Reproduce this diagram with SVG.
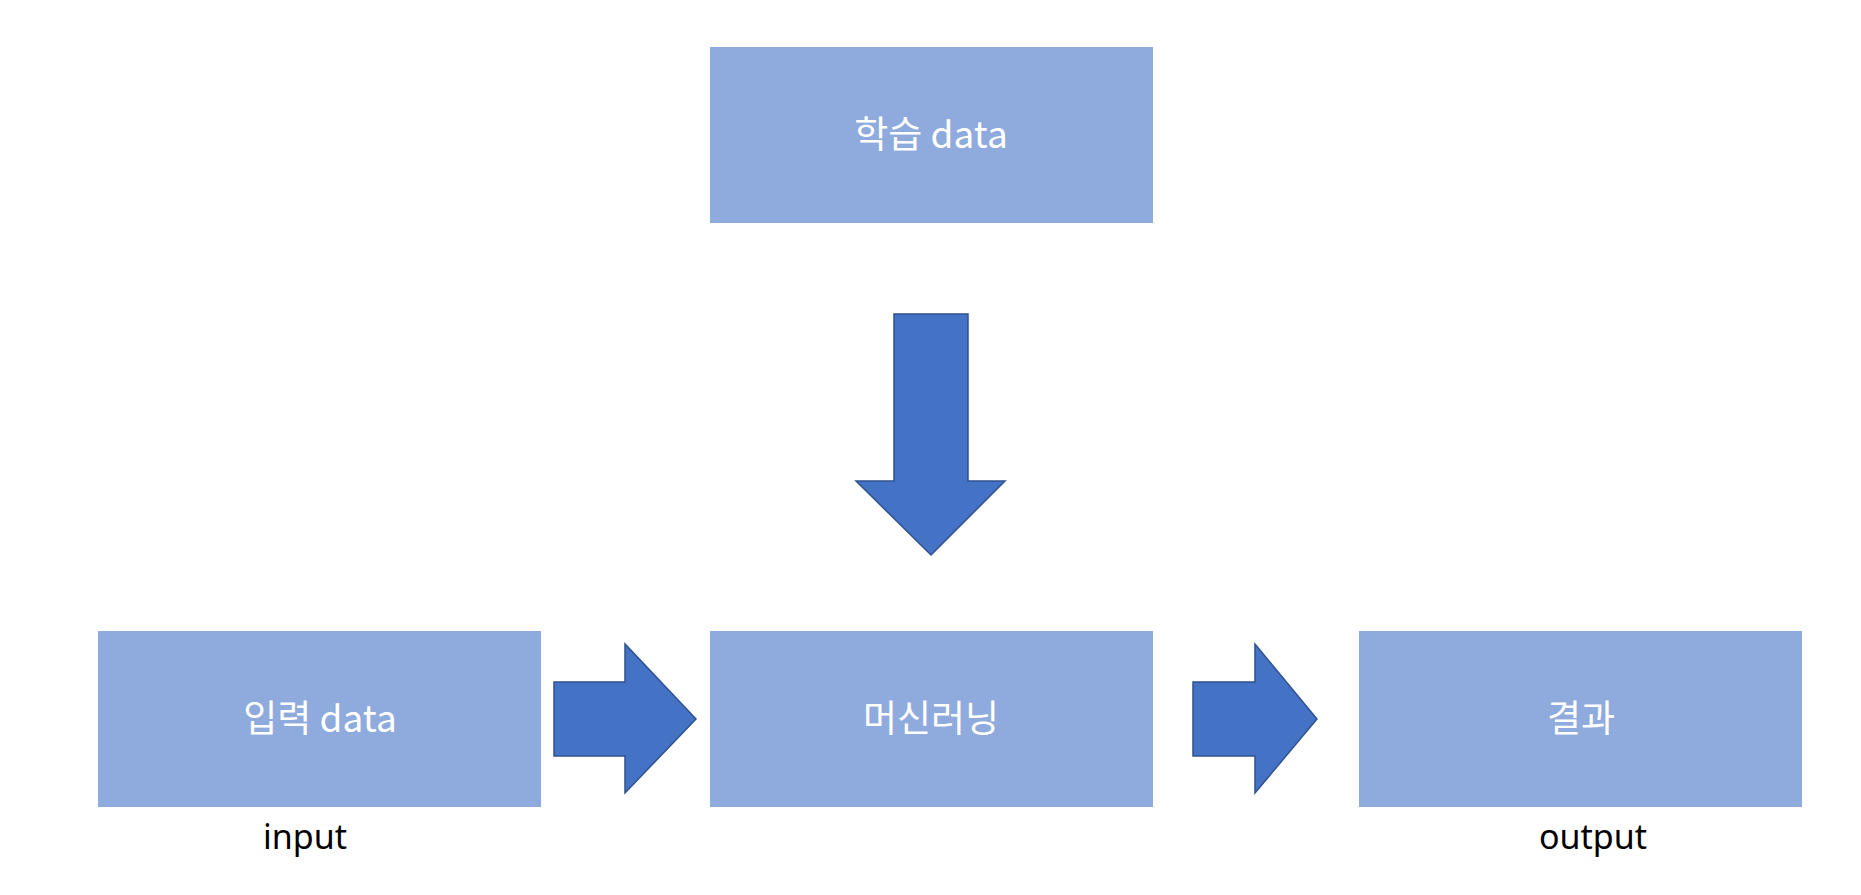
<svg xmlns="http://www.w3.org/2000/svg" width="1861" height="895" viewBox="0 0 1861 895">
  <style>
    .box { fill: #8FAADC; }
    .lbl { fill: #FFFFFF; font-family: "Noto Sans CJK KR", "Noto Sans", sans-serif; font-size: 37px; text-anchor: middle; }
    .cap { fill: #000000; font-family: "Noto Sans", "Noto Sans CJK KR", sans-serif; font-size: 34px; text-anchor: middle; }
    .arrow { fill: #4472C4; stroke: #2F528F; stroke-width: 1.5; stroke-linejoin: miter; }
  </style>
  <rect width="1861" height="895" fill="#FFFFFF"/>
  <g id="node-training">
    <rect class="box" x="710" y="47" width="443" height="176"/>
    <text class="lbl" x="931" y="148">학습 data</text>
  </g>
  <g id="node-input">
    <rect class="box" x="98" y="631" width="443" height="176"/>
    <text class="lbl" x="320" y="732">입력 data</text>
    <text class="cap" x="305" y="849">input</text>
  </g>
  <g id="node-ml">
    <rect class="box" x="710" y="631" width="443" height="176"/>
    <text class="lbl" x="931" y="732">머신러닝</text>
  </g>
  <g id="node-result">
    <rect class="box" x="1359" y="631" width="443" height="176"/>
    <text class="lbl" x="1581" y="732">결과</text>
    <text class="cap" x="1593" y="849">output</text>
  </g>
  <g id="connectors">
    <polygon class="arrow" points="894,314 968,314 968,481 1005,481 931,555 856,481 894,481"/>
    <polygon class="arrow" points="554,682 625,682 625,644 696,719 625,793 625,756 554,756"/>
    <polygon class="arrow" points="1193,682 1255,682 1255,644 1317,719 1255,793 1255,756 1193,756"/>
  </g>
</svg>
